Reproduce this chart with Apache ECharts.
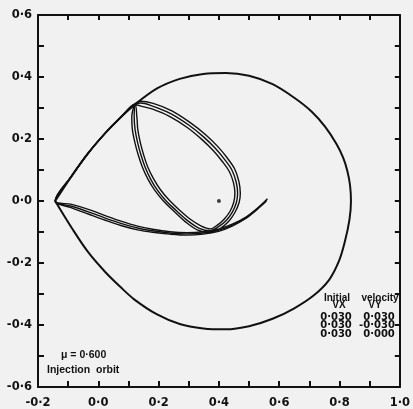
<!DOCTYPE html>
<html>
<head>
<meta charset="utf-8">
<script src="https://cdn.jsdelivr.net/npm/echarts@6/dist/echarts.min.js"></script>
<style>
html, body { margin: 0; padding: 0; background: #f1f1f1; }
#main { width: 413px; height: 409px; }
</style>
</head>
<body>
<div id="main"></div>
<script>
// tick labels (decimal point written as a raised dot, like the original plot)
var xLabels = ['-0·2', '0·0', '0·2', '0·4', '0·6', '0·8', '1·0'];
var yLabels = ['-0·6', '-0·4', '-0·2', '0·0', '0·2', '0·4', '0·6'];

// outer teardrop curve (x, y)
var outerCurve = [
	[-0.143, 0.000], [-0.088, 0.081], [-0.033, 0.155], [0.023, 0.219], [0.072, 0.268],
	[0.120, 0.310], [0.195, 0.363], [0.270, 0.394], [0.348, 0.410], [0.423, 0.413],
	[0.500, 0.404], [0.578, 0.377], [0.650, 0.333], [0.708, 0.288], [0.752, 0.240],
	[0.790, 0.184], [0.812, 0.140], [0.826, 0.097], [0.835, 0.050], [0.838, 0.000],
	[0.833, -0.060], [0.818, -0.130], [0.798, -0.194], [0.765, -0.255], [0.714, -0.305],
	[0.650, -0.346], [0.578, -0.380], [0.500, -0.404], [0.423, -0.414], [0.348, -0.411],
	[0.270, -0.397], [0.195, -0.366], [0.120, -0.318], [0.072, -0.276], [0.023, -0.229],
	[-0.033, -0.166], [-0.088, -0.087], [-0.143, 0.000]
];

// three injection orbits: VY = 0.030, -0.030, 0.000
var orbitA = [
	[0.559, 0.003], [0.530, -0.023], [0.488, -0.055], [0.446, -0.077], [0.400, -0.094],
	[0.348, -0.103], [0.293, -0.106], [0.237, -0.103], [0.180, -0.096], [0.130, -0.087],
	[0.075, -0.072], [0.023, -0.055], [-0.033, -0.035], [-0.088, -0.017], [-0.143, 0.000],
	[-0.088, 0.081], [-0.033, 0.155], [0.023, 0.219], [0.072, 0.268], [0.120, 0.312],
	[0.119, 0.270], [0.122, 0.230], [0.130, 0.190], [0.141, 0.150], [0.155, 0.110],
	[0.174, 0.070], [0.196, 0.035], [0.225, 0.000], [0.260, -0.032], [0.297, -0.064],
	[0.335, -0.088], [0.370, -0.096], [0.400, -0.082], [0.425, -0.062], [0.445, -0.035],
	[0.458, -0.005], [0.462, 0.025], [0.457, 0.062], [0.443, 0.100], [0.418, 0.135],
	[0.388, 0.170], [0.350, 0.206], [0.300, 0.245], [0.240, 0.282], [0.180, 0.306],
	[0.140, 0.316], [0.120, 0.312]
];
var orbitB = [
	[0.561, 0.007], [0.533, -0.019], [0.491, -0.051], [0.448, -0.073], [0.401, -0.090],
	[0.348, -0.099], [0.293, -0.102], [0.237, -0.099], [0.180, -0.091], [0.130, -0.081],
	[0.075, -0.065], [0.023, -0.047], [-0.033, -0.027], [-0.088, -0.011], [-0.143, 0.000],
	[-0.088, 0.081], [-0.033, 0.155], [0.023, 0.219], [0.072, 0.268], [0.120, 0.312],
	[0.111, 0.270], [0.113, 0.230], [0.121, 0.190], [0.132, 0.150], [0.146, 0.110],
	[0.165, 0.070], [0.187, 0.035], [0.216, 0.000], [0.252, -0.034], [0.290, -0.068],
	[0.330, -0.094], [0.370, -0.102], [0.405, -0.088], [0.432, -0.066], [0.453, -0.037],
	[0.467, -0.005], [0.471, 0.025], [0.466, 0.064], [0.452, 0.104], [0.426, 0.141],
	[0.395, 0.177], [0.356, 0.214], [0.305, 0.253], [0.244, 0.291], [0.182, 0.315],
	[0.140, 0.322], [0.120, 0.312]
];
var orbitC = [
	[0.557, -0.001], [0.527, -0.027], [0.485, -0.059], [0.444, -0.081], [0.399, -0.098],
	[0.348, -0.107], [0.293, -0.110], [0.237, -0.107], [0.180, -0.101], [0.130, -0.093],
	[0.075, -0.079], [0.023, -0.062], [-0.033, -0.042], [-0.088, -0.022], [-0.143, 0.000],
	[-0.088, 0.081], [-0.033, 0.155], [0.023, 0.219], [0.072, 0.268], [0.120, 0.312],
	[0.128, 0.270], [0.131, 0.230], [0.139, 0.190], [0.150, 0.150], [0.164, 0.110],
	[0.183, 0.072], [0.205, 0.038], [0.234, 0.004], [0.268, -0.028], [0.304, -0.058],
	[0.340, -0.080], [0.372, -0.090], [0.396, -0.077], [0.418, -0.058], [0.437, -0.033],
	[0.449, -0.005], [0.453, 0.025], [0.448, 0.060], [0.434, 0.096], [0.410, 0.129],
	[0.381, 0.163], [0.344, 0.198], [0.295, 0.237], [0.236, 0.273], [0.178, 0.297],
	[0.142, 0.306], [0.120, 0.312]
];

// the primary body
var bodyPoint = [[0.400, 0.000]];

var numFont = '"DejaVu Sans", sans-serif';
var wordFont = '"Liberation Sans", Arial, sans-serif';

function tickLabel(list, min) {
	return function(v) {
		var k = Math.round((v - min) * 10);
		if (k % 2 !== 0) return '';
		return list[k / 2];
	};
}

function orbitSeries(name, data) {
	return {
		name: name,
		type: 'line',
		data: data,
		smooth: 0.35,
		symbol: 'none',
		lineStyle: { color: '#111', width: 1.4 },
		z: 3
	};
}

function frameAxis(pos, min, max, tickLen, label) {
	return {
		type: 'value', position: pos, min: min, max: max, interval: 0.1,
		axisLine: { onZero: false, lineStyle: { color: '#111', width: 2 } },
		axisTick: { inside: true, length: tickLen, lineStyle: { color: '#111', width: 2 } },
		axisLabel: label || { show: false },
		splitLine: { show: false }
	};
}

var myChart = echarts.init(document.getElementById('main'));
myChart.setOption({
	backgroundColor: '#f1f1f1',
	animation: false,
	grid: { left: 38, right: 6, top: 15, bottom: 22 },
	xAxis: [
		frameAxis('bottom', -0.2, 1.0, 6, {
			formatter: tickLabel(xLabels, -0.2), margin: 10,
			color: '#111', fontFamily: numFont, fontWeight: 'bold', fontSize: 11.5
		}),
		frameAxis('top', -0.2, 1.0, 5)
	],
	yAxis: [
		frameAxis('left', -0.6, 0.6, 6, {
			formatter: tickLabel(yLabels, -0.6), margin: 6,
			color: '#111', fontFamily: numFont, fontWeight: 'bold', fontSize: 11.5
		}),
		frameAxis('right', -0.6, 0.6, 5)
	],
	series: [{
		name: 'outer',
		type: 'line',
		data: outerCurve,
		smooth: 0.35,
		symbol: 'none',
		lineStyle: { color: '#111', width: 2 },
		z: 2
	},
	orbitSeries('VY 0.030', orbitA),
	orbitSeries('VY -0.030', orbitB),
	orbitSeries('VY 0.000', orbitC),
	{
		name: 'body',
		type: 'scatter',
		data: bodyPoint,
		symbol: 'circle',
		symbolSize: 4,
		itemStyle: { color: '#111' },
		z: 4
	}],
	graphic: [
		//---- legend text, bottom left
		{ type: 'text', left: 61, top: 350, style: { text: 'μ = 0·600', fill: '#111', font: 'bold 10.5px ' + wordFont } },
		{ type: 'text', left: 47, top: 365, style: { text: 'Injection  orbit', fill: '#111', font: 'bold 10.5px ' + wordFont } },
		//---- velocity table, bottom right
		{ type: 'text', x: 337, y: 298, style: { text: 'Initial', fill: '#111', align: 'center', verticalAlign: 'middle', font: 'bold 10px ' + wordFont } },
		{ type: 'text', x: 380, y: 298, style: { text: 'velocity', fill: '#111', align: 'center', verticalAlign: 'middle', font: 'bold 10px ' + wordFont } },
		{ type: 'text', x: 339, y: 305.5, style: { text: 'VX', fill: '#111', align: 'center', verticalAlign: 'middle', font: 'bold 10px ' + wordFont } },
		{ type: 'text', x: 375, y: 305.5, style: { text: 'VY', fill: '#111', align: 'center', verticalAlign: 'middle', font: 'bold 10px ' + wordFont } },
		{ type: 'text', x: 336, y: 317, style: { text: '0·030', fill: '#111', align: 'center', verticalAlign: 'middle', font: 'bold 10px ' + numFont } },
		{ type: 'text', x: 379, y: 317, style: { text: '0·030', fill: '#111', align: 'center', verticalAlign: 'middle', font: 'bold 10px ' + numFont } },
		{ type: 'text', x: 336, y: 325.5, style: { text: '0·030', fill: '#111', align: 'center', verticalAlign: 'middle', font: 'bold 10px ' + numFont } },
		{ type: 'text', x: 377, y: 325.5, style: { text: '-0·030', fill: '#111', align: 'center', verticalAlign: 'middle', font: 'bold 10px ' + numFont } },
		{ type: 'text', x: 336, y: 334.5, style: { text: '0·030', fill: '#111', align: 'center', verticalAlign: 'middle', font: 'bold 10px ' + numFont } },
		{ type: 'text', x: 379, y: 334.5, style: { text: '0·000', fill: '#111', align: 'center', verticalAlign: 'middle', font: 'bold 10px ' + numFont } }
	]
});
</script>
</body>
</html>
